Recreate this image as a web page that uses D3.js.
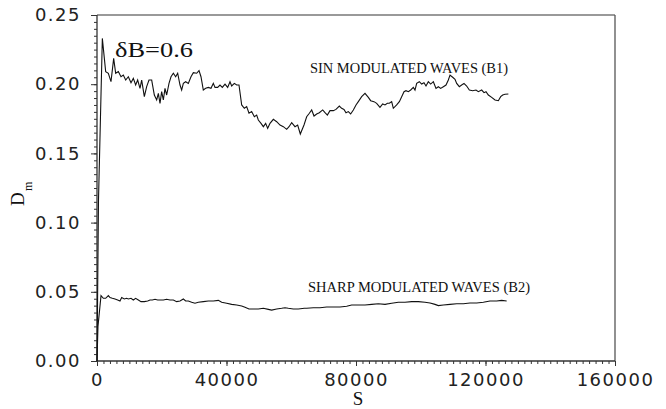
<!DOCTYPE html>
<html>
<head>
<meta charset="utf-8">
<script src="https://cdn.jsdelivr.net/npm/d3@7"></script>
<style>
  html, body { margin: 0; padding: 0; background: #fff; }
  svg { display: block; }
  .tick text { font-family: "DejaVu Sans", sans-serif; font-size: 18px; letter-spacing: 1.5px; fill: #222; }
  .serif { font-family: "Liberation Serif", "Times New Roman", serif; fill: #111; }
</style>
</head>
<body>
<svg id="chart" width="666" height="409"></svg>
<script>
// Diffusion measure D_m versus path length S for two wave-modulation cases, deltaB = 0.6

// B1: sinusoidally modulated waves
const sinS = [0, 460, 1650, 2680, 3500, 4320, 5150, 5770, 6590, 7410, 8130, 8860, 9680, 10500, 11220, 11940, 12560, 13280, 13800, 14620, 15340, 16060, 16890, 17710, 18430, 18950, 19460, 19970, 20490, 21000, 21520, 22240, 22860, 23580, 24300, 24920, 25640, 26150, 26670, 27390, 28210, 29030, 29760, 30790, 31510, 32120, 32840, 33570, 34390, 35210, 35930, 36450, 37270, 37990, 38710, 39540, 40360, 41080, 41600, 42420, 43140, 43860, 44690, 45510, 46230, 46950, 47770, 48600, 49320, 49830, 50660, 51380, 52100, 52720, 53440, 54470, 55500, 56530, 57560, 58590, 59310, 60130, 61160, 61980, 62800, 63940, 64760, 65590, 66310, 67030, 67850, 68670, 69710, 70430, 71150, 71970, 73000, 73820, 74850, 75570, 76290, 76910, 77630, 78350, 79180, 80000, 80720, 81750, 82780, 83810, 84530, 85560, 86380, 87410, 88240, 88960, 89680, 90300, 91020, 91530, 92560, 93390, 94110, 94830, 95440, 96170, 96890, 97710, 98220, 98740, 99560, 100280, 101000, 101620, 102340, 103060, 103890, 104710, 105430, 106150, 106980, 107800, 108520, 109040, 109860, 110580, 111100, 111920, 112640, 113360, 114180, 115010, 116040, 117070, 117790, 118820, 119540, 120160, 120880, 121910, 122940, 123970, 124690, 125310, 126030, 127060];
const sinD = [0.0000, 0.1160, 0.2331, 0.2091, 0.2079, 0.2018, 0.2187, 0.2079, 0.2091, 0.2054, 0.2066, 0.2030, 0.2054, 0.2011, 0.2042, 0.1994, 0.2030, 0.1970, 0.2030, 0.1910, 0.1982, 0.2030, 0.2030, 0.1922, 0.1886, 0.1934, 0.1862, 0.1946, 0.1886, 0.1970, 0.1922, 0.2006, 0.2054, 0.2079, 0.2054, 0.2079, 0.1994, 0.1958, 0.2006, 0.2018, 0.2006, 0.2054, 0.2083, 0.2079, 0.2098, 0.2054, 0.1958, 0.1970, 0.1977, 0.1970, 0.2006, 0.1977, 0.1977, 0.1994, 0.1977, 0.2001, 0.1977, 0.2018, 0.1987, 0.2006, 0.1994, 0.1994, 0.1850, 0.1826, 0.1838, 0.1790, 0.1802, 0.1765, 0.1777, 0.1741, 0.1717, 0.1693, 0.1717, 0.1681, 0.1717, 0.1746, 0.1729, 0.1705, 0.1693, 0.1674, 0.1693, 0.1722, 0.1693, 0.1705, 0.1640, 0.1705, 0.1765, 0.1790, 0.1814, 0.1770, 0.1785, 0.1794, 0.1814, 0.1794, 0.1777, 0.1809, 0.1809, 0.1818, 0.1842, 0.1826, 0.1818, 0.1794, 0.1802, 0.1785, 0.1814, 0.1850, 0.1874, 0.1910, 0.1934, 0.1905, 0.1881, 0.1874, 0.1862, 0.1833, 0.1857, 0.1850, 0.1862, 0.1862, 0.1874, 0.1826, 0.1850, 0.1874, 0.1910, 0.1946, 0.1953, 0.1946, 0.1958, 0.1977, 0.1958, 0.2006, 0.2018, 0.2001, 0.2011, 0.1987, 0.2018, 0.2001, 0.2018, 0.1970, 0.1982, 0.1970, 0.1982, 0.1994, 0.2030, 0.2066, 0.2050, 0.2035, 0.2006, 0.1982, 0.1994, 0.2006, 0.1987, 0.1958, 0.1953, 0.1958, 0.1946, 0.1958, 0.1939, 0.1946, 0.1922, 0.1905, 0.1886, 0.1881, 0.1910, 0.1922, 0.1927, 0.1929];

// B2: sharply modulated waves
const sharpS = [0, 300, 1240, 1960, 2680, 3500, 4020, 4740, 5560, 6380, 7100, 7620, 8440, 9160, 9680, 10500, 11220, 11940, 12770, 13590, 14620, 15650, 16370, 17090, 17920, 18740, 19460, 20490, 21520, 22550, 23580, 24610, 25640, 26670, 27390, 28210, 29240, 30270, 31300, 32840, 34390, 35930, 37480, 38510, 40050, 41600, 43140, 44690, 45720, 46950, 48290, 49830, 51380, 52920, 53950, 55500, 57040, 58070, 59100, 60640, 62190, 64040, 64760, 66820, 68880, 70940, 73000, 75060, 77120, 78660, 80720, 82780, 84840, 86900, 88960, 91020, 93080, 95140, 97200, 99260, 101310, 102860, 104400, 105430, 106980, 109040, 111100, 113160, 115210, 117270, 119330, 121390, 123450, 124990, 126540];
const sharpD = [0.0000, 0.0250, 0.0472, 0.0453, 0.0453, 0.0472, 0.0458, 0.0453, 0.0448, 0.0441, 0.0434, 0.0458, 0.0448, 0.0453, 0.0448, 0.0453, 0.0441, 0.0453, 0.0441, 0.0429, 0.0429, 0.0434, 0.0441, 0.0441, 0.0446, 0.0441, 0.0441, 0.0441, 0.0446, 0.0441, 0.0441, 0.0429, 0.0434, 0.0448, 0.0434, 0.0434, 0.0424, 0.0417, 0.0424, 0.0429, 0.0434, 0.0434, 0.0438, 0.0424, 0.0417, 0.0409, 0.0405, 0.0397, 0.0388, 0.0376, 0.0376, 0.0376, 0.0381, 0.0373, 0.0368, 0.0376, 0.0381, 0.0385, 0.0381, 0.0376, 0.0376, 0.0381, 0.0381, 0.0385, 0.0385, 0.0390, 0.0390, 0.0390, 0.0395, 0.0405, 0.0405, 0.0405, 0.0409, 0.0414, 0.0409, 0.0417, 0.0424, 0.0424, 0.0429, 0.0429, 0.0424, 0.0419, 0.0409, 0.0400, 0.0405, 0.0409, 0.0414, 0.0414, 0.0419, 0.0419, 0.0424, 0.0434, 0.0434, 0.0438, 0.0434];

// Axis ticks
const xTicks = [0, 40000, 80000, 120000, 160000];
const xTickLabels = ["0", "40000", "80000", "120000", "160000"];
const yTicks = [0, 0.05, 0.10, 0.15, 0.20, 0.25];
const yTickLabels = ["0.00", "0.05", "0.10", "0.15", "0.20", "0.25"];

// Text labels
const xTitle = "S";
const yTitle = "D";
const yTitleSub = "m";
const paramLabel = "\u03b4B=0.6";
const sinLabel = "SIN MODULATED WAVES (B1)";
const sharpLabel = "SHARP MODULATED WAVES (B2)";

const svg = d3.select("#chart");
const plotL = 97, plotR = 615, plotT = 15, plotB = 361;

const x = d3.scaleLinear().domain([0, 160000]).range([plotL, plotR]);
const y = d3.scaleLinear().domain([0, 0.25]).range([plotB, plotT]);

// minor ticks
svg.append("g")
  .attr("transform", `translate(0,${plotB})`)
  .call(d3.axisBottom(x).tickValues(d3.range(0, 160001, 2000)).tickSize(3).tickFormat(""))
  .call(g => g.select(".domain").remove())
  .call(g => g.selectAll("line").attr("stroke", "#333"));
svg.append("g")
  .attr("transform", `translate(${plotL},0)`)
  .call(d3.axisLeft(y).tickValues(d3.range(0, 51).map(i => i * 0.005)).tickSize(3).tickFormat(""))
  .call(g => g.select(".domain").remove())
  .call(g => g.selectAll("line").attr("stroke", "#333"));

// major ticks with labels
svg.append("g")
  .attr("transform", `translate(0,${plotB})`)
  .call(d3.axisBottom(x).tickValues(xTicks).tickSize(5).tickPadding(7)
    .tickFormat((d, i) => xTickLabels[i]))
  .call(g => g.select(".domain").remove())
  .call(g => g.selectAll("line").attr("stroke", "#333"));
svg.append("g")
  .attr("transform", `translate(${plotL},0)`)
  .call(d3.axisLeft(y).tickValues(yTicks).tickSize(6).tickPadding(10)
    .tickFormat((d, i) => yTickLabels[i]))
  .call(g => g.select(".domain").remove())
  .call(g => g.selectAll("line").attr("stroke", "#333"));

// frame
svg.append("line").attr("x1", plotL).attr("x2", plotR).attr("y1", plotT).attr("y2", plotT)
  .attr("stroke", "#777").attr("stroke-width", 1.6);
svg.append("line").attr("x1", plotR).attr("x2", plotR).attr("y1", plotT).attr("y2", plotB)
  .attr("stroke", "#555").attr("stroke-width", 1.3);
svg.append("line").attr("x1", plotL).attr("x2", plotR).attr("y1", plotB).attr("y2", plotB)
  .attr("stroke", "#333").attr("stroke-width", 1.3);
svg.append("line").attr("x1", plotL).attr("x2", plotL).attr("y1", plotT).attr("y2", plotB)
  .attr("stroke", "#333").attr("stroke-width", 1.3);

// curves
const line = d3.line().x(d => x(d[0])).y(d => y(d[1]));
svg.append("path")
  .datum(d3.zip(sinS, sinD))
  .attr("d", line).attr("fill", "none").attr("stroke", "#111").attr("stroke-width", 1.1);
svg.append("path")
  .datum(d3.zip(sharpS, sharpD))
  .attr("d", line).attr("fill", "none").attr("stroke", "#111").attr("stroke-width", 1.1);

// annotations
svg.append("text").attr("class", "serif").attr("x", 115).attr("y", 57)
  .attr("font-size", 21)
  .attr("textLength", 78).attr("lengthAdjust", "spacingAndGlyphs")
  .text(paramLabel);
svg.append("text").attr("class", "serif").attr("x", 310).attr("y", 73)
  .attr("font-size", 14)
  .attr("textLength", 198).attr("lengthAdjust", "spacingAndGlyphs")
  .text(sinLabel);
svg.append("text").attr("class", "serif").attr("x", 308).attr("y", 292)
  .attr("font-size", 14)
  .attr("textLength", 222).attr("lengthAdjust", "spacingAndGlyphs")
  .text(sharpLabel);

// axis titles
svg.append("text").attr("class", "serif").attr("x", 358).attr("y", 405).attr("text-anchor", "middle")
  .attr("font-size", 19)
  .text(xTitle);
const yt = svg.append("g").attr("transform", "translate(24,206) rotate(-90)");
yt.append("text").attr("class", "serif").attr("x", 0).attr("y", 0)
  .attr("font-size", 19)
  .text(yTitle);
yt.append("text").attr("class", "serif").attr("x", 15).attr("y", 8)
  .attr("font-size", 12)
  .text(yTitleSub);
</script>
</body>
</html>
